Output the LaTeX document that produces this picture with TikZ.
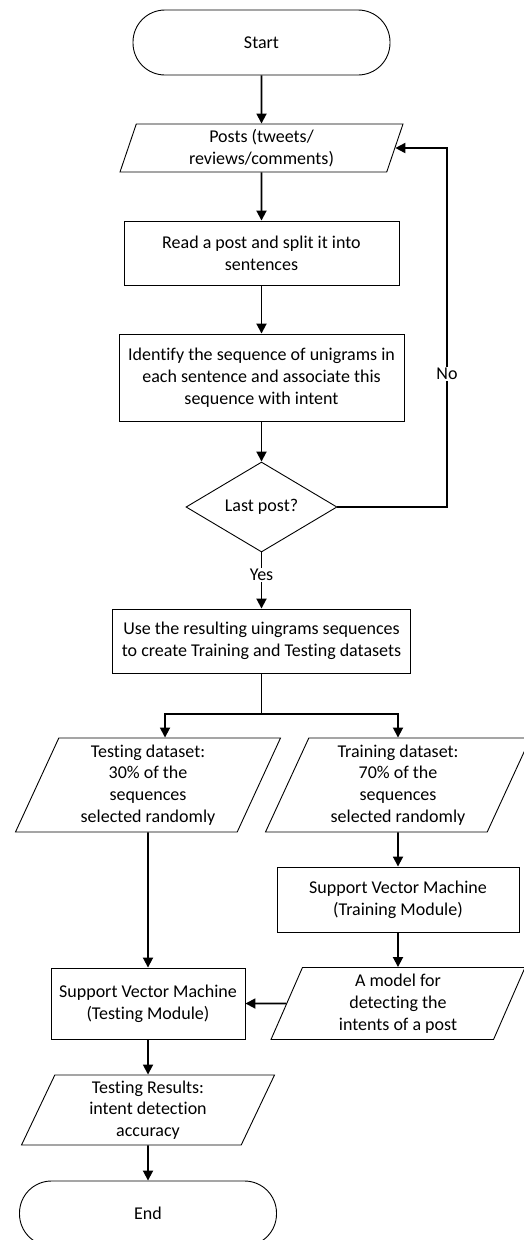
\documentclass[tikz,border=0pt]{standalone}
\usepackage{fontspec}
\setmainfont{Carlito}[Ligatures=NoCommon]
\usetikzlibrary{arrows.meta,shapes.geometric}

\begin{document}
\begin{tikzpicture}[x=1pt,y=1pt,
  every node/.style={font=\fontsize{18}{21.7}\selectfont, align=center, text=black},
  term/.style={draw, line width=0.9pt, rounded corners=32pt, minimum width=257pt, minimum height=65pt},
  proc/.style={draw, line width=0.9pt, inner sep=3pt},
  data/.style={draw, line width=0.9pt, trapezium, trapezium left angle=#1, trapezium right angle={180-#1}, trapezium stretches body, inner sep=3pt},
  dec/.style={draw, line width=0.9pt, diamond, aspect=1.7, inner sep=0pt, minimum width=151pt, minimum height=90pt},
  flow/.style={line width=1.8pt, -{Triangle[length=10pt,width=10pt]}},
  lab/.style={fill=white, inner sep=1pt}]
\useasboundingbox (0,0) rectangle (523,-1240);
\node[term] (start) at (261.5,-42.5) {Start};
\node[data=69.4, minimum width=283pt, minimum height=48pt] (posts) at (261.5,-148) {Posts (tweets/\\reviews/comments)};
\node[proc, minimum width=275pt, minimum height=64pt] (read) at (261.5,-253) {Read a post and split it into\\sentences};
\node[proc, minimum width=285pt, minimum height=87pt] (ident) at (261.5,-377.5) {Identify the sequence of unigrams in\\each sentence and associate this\\sequence with intent};
\node[dec] (last) at (261.5,-507) {Last post?};
\node[proc, minimum width=298pt, minimum height=64pt] (use) at (261.5,-641) {Use the resulting uingrams sequences\\to create Training and Testing datasets};
\node[data=63.4, minimum width=265pt, minimum height=94pt] (testdata) at (148,-785) {Testing dataset:\\30\% of the\\sequences\\selected randomly};
\node[data=63.4, minimum width=265pt, minimum height=94pt] (traindata) at (398,-785) {Training dataset:\\70\% of the\\sequences\\selected randomly};
\node[proc, minimum width=242pt, minimum height=65pt] (svmtrain) at (398,-899.5) {Support Vector Machine\\(Training Module)};
\node[data=64.1, minimum width=254pt, minimum height=72pt] (model) at (398,-1003.5) {A model for\\detecting the\\intents of a post};
\node[proc, minimum width=194pt, minimum height=71pt] (svmtest) at (148,-1003.5) {Support Vector Machine\\(Testing Module)};
\node[data=62.8, minimum width=253pt, minimum height=70pt] (results) at (148,-1110) {Testing Results:\\intent detection\\accuracy};
\node[term] (end) at (148,-1213.5) {End};

\coordinate (loop) at (447,-507);
\coordinate (split) at (261.5,-714);

\draw[flow] (start) -- (posts);
\draw[flow] (posts) -- (read);
\draw[flow] (read) -- (ident);
\draw[flow] (ident) -- (last);
\draw[flow] (last.east) -- (loop) |- (posts.east);
\node[lab] (no) at (447,-374) {No};
\draw[flow] (last) -- node[lab, pos=0.4] (yes) {Yes} (use);
\draw[line width=1.8pt] (use) -- (split);
\draw[flow] (split) -| ([xshift=17pt]testdata.north);
\draw[flow] (split) -| (traindata);
\draw[flow] (traindata) -- (svmtrain);
\draw[flow] (svmtrain) -- (model);
\draw[flow] (model) -- (svmtest);
\draw[flow] (testdata) -- (svmtest);
\draw[flow] (svmtest) -- (results);
\draw[flow] (results) -- (end);
\end{tikzpicture}
\end{document}
